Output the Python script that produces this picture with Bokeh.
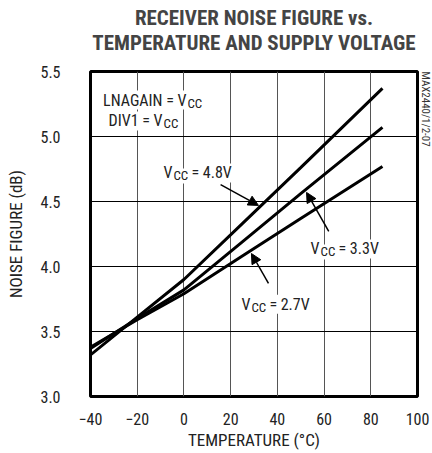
from bokeh.plotting import figure
from bokeh.models import Title, Arrow, NormalHead, FixedTicker, NumeralTickFormatter, Range1d
from bokeh.core.properties import value
from bokeh.embed import file_html
from bokeh.resources import INLINE

# ---- data ----
temps = [-40, -20, 0, 25, 50, 85]
nf_48 = [3.32, 3.61, 3.90, 4.33, 4.76, 5.37]
nf_33 = [3.37, 3.60, 3.82, 4.19, 4.56, 5.07]
nf_27 = [3.38, 3.59, 3.79, 4.08, 4.37, 4.77]
x_ticks = [-40, -20, 0, 20, 40, 60, 80, 100]
y_ticks = [3.0, 3.5, 4.0, 4.5, 5.0, 5.5]
title_lines = ["RECEIVER NOISE FIGURE vs.", "TEMPERATURE AND SUPPLY VOLTAGE"]

FONT = "Roboto Condensed"

p = figure(frame_width=327, frame_height=325, output_backend="svg", toolbar_location=None,
           x_range=Range1d(-40, 100), y_range=Range1d(3.0, 5.5),
           min_border_left=90, min_border_right=15, min_border_top=71, min_border_bottom=57)

p.outline_line_color = "black"
p.outline_line_width = 3
p.background_fill_color = "white"

# titles: second line first so it sits nearest the frame
t2 = Title(text=title_lines[1], align="center", text_font=FONT,
           text_font_size="21px", text_font_style="bold", standoff=34)
t1 = Title(text=title_lines[0], align="center", text_font=FONT,
           text_font_size="21px", text_font_style="bold", standoff=-36)
p.add_layout(t2, "above")
p.add_layout(t1, "above")

# side code on the right
side = Title(text="MAX2440/1/2-07", align="left", text_font=FONT, text_font_size="11px",
             text_font_style="normal", text_color="#333", standoff=3)
p.add_layout(side, "right")

for ax in (p.xaxis[0], p.yaxis[0]):
    ax.axis_line_color = None
    ax.major_tick_line_color = None
    ax.minor_tick_line_color = None
    ax.major_tick_out = 0
    ax.major_tick_in = 0
    ax.major_label_text_font = FONT
    ax.major_label_text_font_size = "16px"
    ax.major_label_text_color = "#222"
    ax.axis_label_text_font = FONT
    ax.axis_label_text_font_size = "17px"
    ax.axis_label_text_font_style = "normal"
    ax.axis_label_text_color = "#222"

p.xaxis.ticker = FixedTicker(ticks=x_ticks)
p.yaxis.ticker = FixedTicker(ticks=y_ticks)
p.yaxis.formatter = NumeralTickFormatter(format="0.0")
p.xaxis.axis_label = "TEMPERATURE (°C)"
p.yaxis.axis_label = "NOISE FIGURE (dB)"
p.xaxis.major_label_standoff = 16
p.xaxis.axis_label_standoff = 2
p.yaxis.major_label_standoff = 30
p.yaxis.axis_label_standoff = 11

p.xgrid.grid_line_color = "#555"
p.xgrid.grid_line_width = 1
p.ygrid.grid_line_color = "black"
p.ygrid.grid_line_width = 1

for series in (nf_48, nf_33, nf_27):
    p.line(temps, series, line_color="black", line_width=3)

def txt(x, y, s, size="16px", dx=0, dy=0, align="left"):
    p.text(x=[x], y=[y], text=[s], text_font=value(FONT), text_font_size=size,
           text_color="#222", text_baseline="alphabetic", text_align=align,
           x_offset=dx, y_offset=dy, background_fill_color="white")

def vcc(x, y, pre="", rest=""):
    if pre:
        txt(x, y, pre, align="right")
    txt(x, y, "V")
    txt(x, y, "CC", size="13px", dx=10, dy=3)
    if rest:
        txt(x, y, rest, dx=28)

vcc(-2.75, 5.28, pre="LNAGAIN = ")
vcc(-13.0, 5.12, pre="DIV1 = ")
vcc(-8.75, 4.72, rest="= 4.8V")
vcc(54.2, 4.135, rest="= 3.3V")
vcc(24.6, 3.71, rest="= 2.7V")

def arrow(x0, y0, x1, y1):
    p.add_layout(Arrow(end=NormalHead(size=10, fill_color="black", line_color="black"),
                       x_start=x0, y_start=y0, x_end=x1, y_end=y1,
                       line_color="black", line_width=1.5))

arrow(15.7, 4.63, 31.9, 4.47)
arrow(62.0, 4.27, 52.5, 4.57)
arrow(36.2, 3.87, 28.9, 4.10)

open("out.html", "w").write(file_html(p, INLINE))
